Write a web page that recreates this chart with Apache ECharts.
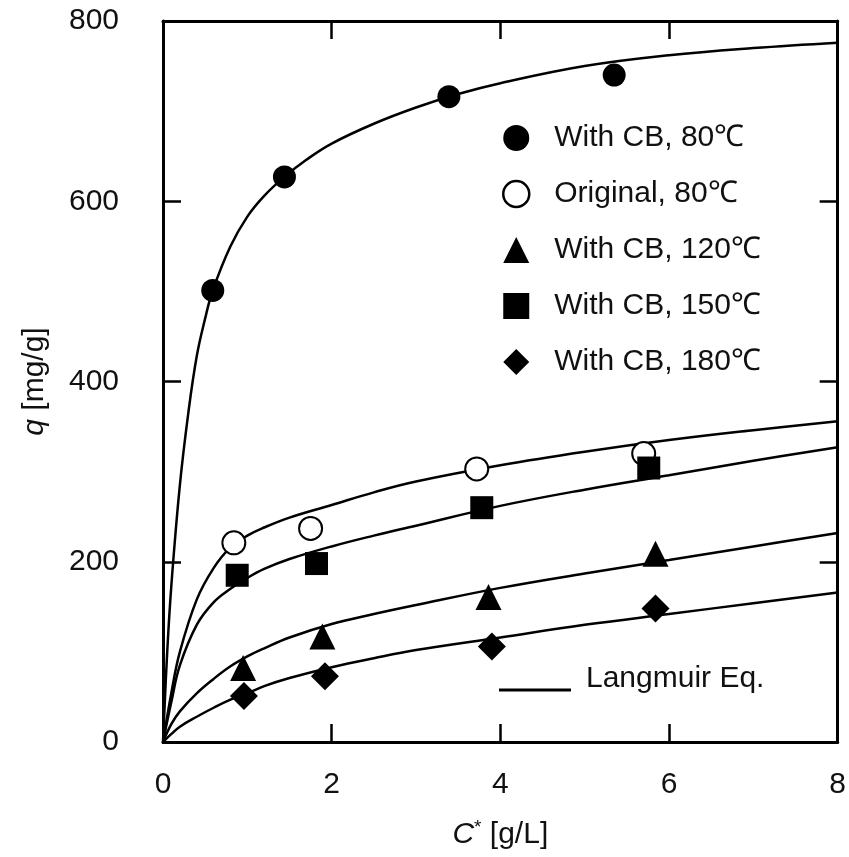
<!DOCTYPE html>
<html>
<head>
<meta charset="utf-8">
<script src="https://cdn.jsdelivr.net/npm/echarts@6/dist/echarts.min.js"></script>
<style>
  html, body { margin: 0; padding: 0; background: #fff; }
  #chart { width: 849px; height: 857px; }
</style>
</head>
<body>
<div id="chart"></div>
<script>
// measured points
const cCB80 = [0.59, 1.44, 3.39, 5.35];
const qCB80 = [501, 627, 716, 740];
const cOrig80 = [0.84, 1.75, 3.72, 5.70];
const qOrig80 = [221, 237, 303, 320];
const cCB120 = [0.95, 1.89, 3.86, 5.84];
const qCB120 = [82, 117, 161, 209];
const cCB150 = [0.88, 1.82, 3.78, 5.76];
const qCB150 = [185, 198, 260, 304];
const cCB180 = [0.96, 1.92, 3.90, 5.84];
const qCB180 = [51, 73, 106, 148];

// Langmuir curves
const fitC80 = [0, 0.05, 0.1, 0.2, 0.3, 0.4, 0.5, 0.59, 0.8, 1.0, 1.2, 1.44, 1.7, 2, 2.5, 3, 3.5, 4, 5, 6, 7, 8];
const fitQ80 = [0, 100, 175, 285, 365, 428, 470, 501, 550, 583, 606, 627, 646, 664, 686, 704, 719, 731, 750, 762, 770, 776];
const fitC = [0, 0.1, 0.2, 0.4, 0.6, 0.8, 1.0, 1.2, 1.5, 2, 2.5, 3, 4, 5, 6, 7, 8];
const fitOrig80 = [0, 55, 100, 158, 193, 216, 229, 238, 249, 263, 277, 289, 307, 322, 335, 346, 356];
const fitCB150 = [0, 45, 85, 130, 155, 170, 182, 192, 203, 217, 229, 240, 262, 280, 296, 312, 327];
const fitCB120 = [0, 20, 34, 54, 70, 84, 95, 104, 116, 131, 142, 152, 171, 187, 202, 217, 232];
const fitCB180 = [0, 9, 17, 28, 38, 47, 54, 62, 71, 83, 93, 102, 116, 130, 142, 154, 166];

const xTicks = [0, 2, 4, 6, 8];
const yTicks = [0, 200, 400, 600, 800];

const names = ['With CB, 80℃', 'Original, 80℃', 'With CB, 120℃', 'With CB, 150℃', 'With CB, 180℃'];
const fitName = 'Langmuir Eq.';

const font = "'Liberation Sans', Arial, sans-serif";
const ink = '#000';
const textInk = '#111';

const zip = (xs, ys) => xs.map((x, i) => [x, ys[i]]);

const chart = echarts.init(document.getElementById('chart'));

const axisLine = () => ({ show: true, onZero: false, lineStyle: { color: ink, width: 3 } });
const axisTick = () => ({ show: true, inside: true, length: 18, lineStyle: { color: ink, width: 2.5 } });

const curve = (data) => ({
  name: fitName,
  type: 'line',
  data: data,
  symbol: 'none',
  smooth: 0.4,
  lineStyle: { color: ink, width: 2.5 },
  itemStyle: { color: ink },
  z: 2,
  silent: true
});

const points = (name, data, symbol, size, filled) => ({
  name: name,
  type: 'scatter',
  data: data,
  symbol: symbol,
  symbolSize: size,
  itemStyle: filled
    ? { color: '#000', opacity: 1 }
    : { color: '#000', borderWidth: 2.5, opacity: 1 },
  z: 5
});

const option = {
  backgroundColor: '#fff',
  animation: false,
  grid: { left: 163, right: 10, top: 21, bottom: 115 },
  xAxis: [
    {
      type: 'value',
      position: 'bottom',
      min: 0, max: 8, interval: 2,
      axisLine: axisLine(),
      axisTick: axisTick(),
      splitLine: { show: false },
      name: '{i|C}{sup|*} [g/L]',
      nameLocation: 'middle',
      nameGap: 76,
      nameMoveOverlap: false,
      nameTextStyle: {
        fontFamily: font, fontSize: 30, color: textInk,
        rich: {
          i: { fontFamily: font, fontSize: 30, fontStyle: 'italic', color: textInk },
          sup: { fontFamily: font, fontSize: 19, color: textInk, padding: [0, 0, 14, 0] }
        }
      },
      axisLabel: {
        margin: 28, fontFamily: font, fontSize: 30, color: textInk,
        formatter: (v) => xTicks.includes(v) ? String(v) : ''
      }
    },
    {
      type: 'value',
      position: 'top',
      min: 0, max: 8, interval: 2,
      axisLine: axisLine(),
      axisTick: axisTick(),
      splitLine: { show: false },
      axisLabel: { show: false }
    }
  ],
  yAxis: [
    {
      type: 'value',
      position: 'left',
      min: 0, max: 800, interval: 200,
      axisLine: axisLine(),
      axisTick: axisTick(),
      splitLine: { show: false },
      name: '{i|q} [mg/g]',
      nameLocation: 'middle',
      nameGap: 113,
      nameMoveOverlap: false,
      nameRotate: 90,
      nameTextStyle: {
        fontFamily: font, fontSize: 30, color: textInk,
        rich: {
          i: { fontFamily: font, fontSize: 30, fontStyle: 'italic', color: textInk }
        }
      },
      axisLabel: {
        margin: 44, fontFamily: font, fontSize: 30, color: textInk,
        formatter: (v) => yTicks.includes(v) ? String(v) : ''
      }
    },
    {
      type: 'value',
      position: 'right',
      min: 0, max: 800, interval: 200,
      axisLine: axisLine(),
      axisTick: axisTick(),
      splitLine: { show: false },
      axisLabel: { show: false }
    }
  ],
  legend: [
    {
      data: [
        { name: names[0] },
        { name: names[1], icon: 'circle', itemStyle: { color: '#fff', borderColor: '#000', borderWidth: 2.5 } },
        { name: names[2] },
        { name: names[3] },
        { name: names[4] }
      ],
      orient: 'vertical',
      left: 497,
      top: 118,
      itemWidth: 26,
      itemHeight: 26,
      itemGap: 26,
      selectedMode: false,
      textStyle: { fontFamily: font, fontSize: 30, color: textInk, padding: [0, 0, 0, 20] }
    },
    {
      data: [{ name: fitName, icon: 'rect', itemStyle: { color: ink } }],
      left: 494,
      top: 659,
      itemWidth: 72,
      itemHeight: 3,
      selectedMode: false,
      formatter: (name) => name + '\n ',
      textStyle: { fontFamily: font, fontSize: 30, lineHeight: 22, color: textInk, padding: [0, 0, 0, 10] }
    }
  ],
  series: [
    curve(zip(fitC80, fitQ80)),
    curve(zip(fitC, fitOrig80)),
    curve(zip(fitC, fitCB150)),
    curve(zip(fitC, fitCB120)),
    curve(zip(fitC, fitCB180)),
    points(names[0], zip(cCB80, qCB80), 'circle', 23, true),
    points(names[1], zip(cOrig80, qOrig80), 'emptyCircle', 23, false),
    points(names[2], zip(cCB120, qCB120), 'triangle', 26, true),
    points(names[3], zip(cCB150, qCB150), 'rect', 23, true),
    points(names[4], zip(cCB180, qCB180), 'diamond', 28, true)
  ]
};

chart.setOption(option);
</script>
</body>
</html>
